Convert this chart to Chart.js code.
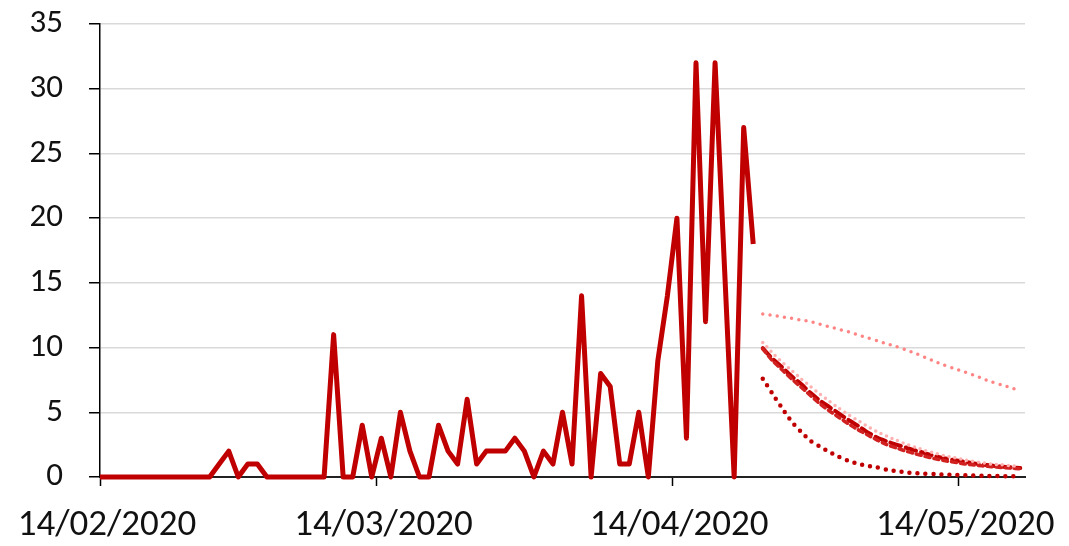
<!DOCTYPE html>
<html>
<head>
<meta charset="utf-8">
<script src="https://cdn.jsdelivr.net/npm/chart.js@4.4.0/dist/chart.umd.min.js"></script>
<style>
    body { margin: 0; background: #fff; }
    canvas { display: block; }
</style>
</head>
<body>
<canvas id="lineChart" width="1069" height="546"></canvas>
<script>
// days counted from 14/02/2020, each value drawn in the middle of its day
const tickDays = [0, 29, 60, 90];
const tickLabels = ['14/02/2020', '14/03/2020', '14/04/2020', '14/05/2020'];

// daily values starting 13/02/2020 (day -1)
const dailyStart = -1;
const daily = [
    0,
    0, 0, 0, 0, 0, 0, 0, 0, 0, 0, 0,
    0, 1, 2, 0, 1, 1, 0, 0, 0, 0, 0, 0, 0,
    11, 0, 0, 4, 0, 3, 0, 5, 2, 0, 0,
    4, 2, 1, 6, 1, 2, 2, 2, 3, 2, 0,
    2, 1, 5, 1, 14, 0, 8, 7, 1, 1, 5,
    0, 9, 14, 20, 3, 32, 12, 32, 16, 0, 27, 18
];

// projections starting 23/04/2020 (day 69)
const projStart = 69;
const projHigh = [
    12.6, 12.5, 12.38, 12.26, 12.13, 12.0, 11.8, 11.6, 11.41, 11.21,
    10.98, 10.75, 10.52, 10.3, 10.08, 9.83, 9.55, 9.25, 8.95, 8.65,
    8.4, 8.15, 7.9, 7.62, 7.35, 7.12, 6.9, 6.68
];
const projMidUpper = [
    10.4, 9.6, 8.9, 8.25, 7.6, 7.0, 6.4, 5.85, 5.3, 4.8,
    4.35, 3.9, 3.5, 3.15, 2.85, 2.55, 2.3, 2.05, 1.85, 1.65,
    1.5, 1.35, 1.22, 1.1, 1.0, 0.95, 0.88, 0.82
];
const projMid = [
    9.95, 9.15, 8.5, 7.8, 7.2, 6.5, 5.9, 5.4, 4.9, 4.4,
    3.95, 3.45, 3.05, 2.75, 2.5, 2.28, 2.05, 1.85, 1.62, 1.45,
    1.32, 1.2, 1.07, 0.96, 0.88, 0.81, 0.75, 0.69
];
const projMidLower = [
    9.9, 9.0, 8.3, 7.6, 6.95, 6.3, 5.65, 5.1, 4.6, 4.1,
    3.65, 3.25, 2.85, 2.5, 2.25, 2.0, 1.8, 1.6, 1.42, 1.27,
    1.15, 1.03, 0.94, 0.86, 0.8, 0.74, 0.69, 0.64
];
const projLow = [
    7.6, 6.45, 5.35, 4.3, 3.5, 2.8, 2.35, 1.93, 1.55, 1.24,
    1.01, 0.86, 0.74, 0.57, 0.45, 0.36, 0.3, 0.25, 0.22, 0.19,
    0.16, 0.14, 0.12, 0.1, 0.08, 0.07, 0.06, 0.05
];

const toPoints = (values, start) => values.map((v, i) => ({ x: start + i + 0.5, y: v }));

const red = '#C00000';
const labelFont = "Carlito, 'Liberation Sans', Arial, sans-serif";

const projection = (values, color, dash, width) => ({
    data: toPoints(values, projStart),
    borderColor: color,
    borderWidth: width,
    borderDash: dash,
    borderCapStyle: 'round',
    borderJoinStyle: 'round',
    pointRadius: 0,
    tension: 0.2,
    clip: { left: 0, right: 0, top: 5, bottom: 5 }
});

new Chart(document.getElementById('lineChart'), {
    type: 'line',
    data: {
        datasets: [
            projection(projHigh, '#FF8585', [0, 7.3], 3.5),
            projection(projMidUpper, '#FFB0B0', [0, 6], 3.5),
            projection(projMidLower, '#D02020', [5, 4], 3.5),
            projection(projMid, red, [11, 5], 4),
            projection(projLow, red, [0, 8], 4.5),
            {
                data: toPoints(daily, dailyStart),
                borderColor: red,
                borderWidth: 5,
                borderJoinStyle: 'round',
                borderCapStyle: 'butt',
                pointRadius: 0,
                tension: 0,
                clip: { left: 0, right: 0, top: 5, bottom: 5 }
            }
        ]
    },
    options: {
        responsive: false,
        animation: false,
        layout: { padding: { top: 24, right: 44, left: 0, bottom: 0 } },
        plugins: {
            legend: { display: false },
            tooltip: { enabled: false }
        },
        scales: {
            x: {
                type: 'linear',
                min: 0,
                max: 97,
                afterBuildTicks: (axis) => {
                    axis.ticks = tickDays.map(v => ({ value: v }));
                },
                afterFit: (axis) => {
                    axis.height = 69;
                    axis.paddingLeft = 0;
                    axis.paddingRight = 0;
                },
                grid: {
                    drawOnChartArea: false,
                    tickLength: 9,
                    tickColor: '#000',
                    tickWidth: 1.5
                },
                border: { color: '#222', width: 2 },
                ticks: {
                    autoSkip: false,
                    maxRotation: 0,
                    padding: 18,
                    labelOffset: 7,
                    color: '#111',
                    font: { family: labelFont, size: 37 },
                    callback: (value) => tickLabels[tickDays.indexOf(value)]
                }
            },
            y: {
                min: 0,
                max: 35,
                afterFit: (axis) => {
                    axis.width = 100;
                    axis.paddingTop = 0;
                    axis.paddingBottom = 0;
                },
                grid: {
                    color: '#D9D9D9',
                    lineWidth: 1.5,
                    tickLength: 11,
                    tickColor: '#000',
                    tickWidth: 1.5
                },
                border: { color: '#000', width: 1.5 },
                ticks: {
                    stepSize: 5,
                    padding: 26,
                    color: '#111',
                    font: { family: labelFont, size: 33 }
                }
            }
        }
    }
});
</script>
</body>
</html>
